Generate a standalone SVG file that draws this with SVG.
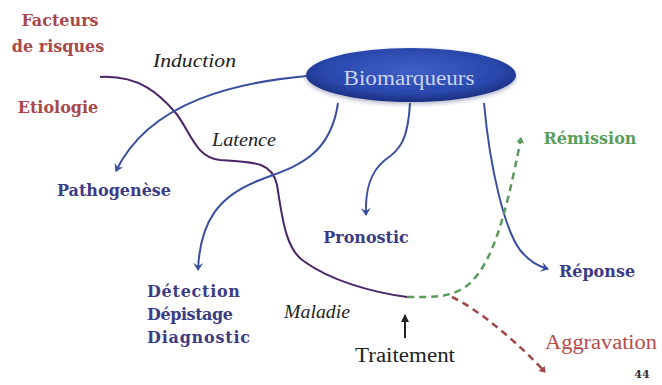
<svg xmlns="http://www.w3.org/2000/svg" width="662" height="385" viewBox="0 0 662 385" font-family="'DejaVu Serif', 'Liberation Serif', serif">
<defs>
<radialGradient id="eg" cx="50%" cy="42%" r="55%">
<stop offset="0" stop-color="#3f5fc8"/>
<stop offset="0.75" stop-color="#2a48ac"/>
<stop offset="1" stop-color="#1e3388"/>
</radialGradient>
<filter id="sh" x="-10%" y="-20%" width="120%" height="150%">
<feGaussianBlur in="SourceAlpha" stdDeviation="2"/>
<feOffset dy="2" result="b"/>
<feFlood flood-color="#1a2a60" flood-opacity="0.35"/>
<feComposite in2="b" operator="in"/>
<feMerge><feMergeNode/><feMergeNode in="SourceGraphic"/></feMerge>
</filter>
<marker id="ab" markerWidth="10" markerHeight="10" refX="7" refY="5" orient="auto" markerUnits="userSpaceOnUse">
<path d="M0,0 L8,5 L0,10 L3,5 Z" fill="#3b4fa0"/>
</marker>
<marker id="ag" markerWidth="8" markerHeight="8" refX="5" refY="4" orient="auto" markerUnits="userSpaceOnUse">
<path d="M0,0 L6,4 L0,8 Z" fill="#5a9a5a"/>
</marker>
<marker id="ar" markerWidth="8" markerHeight="8" refX="5" refY="4" orient="auto" markerUnits="userSpaceOnUse">
<path d="M0,0 L6,4 L0,8 Z" fill="#a04848"/>
</marker>
<marker id="ak" markerWidth="10" markerHeight="10" refX="7" refY="5" orient="auto" markerUnits="userSpaceOnUse">
<path d="M0,1 L8,5 L0,9 Z" fill="#222"/>
</marker>
</defs>
<style>
.red{fill:#a84848;font-weight:bold;font-size:16px}
.blue{fill:#3c3c86;font-weight:bold;font-size:16px}
.reg{font-family:"Liberation Serif","Times New Roman",serif}
.it{font-style:italic;font-size:19px;fill:#222}
.blk{fill:#222;font-size:20px}
.cb{fill:none;stroke:#3b4fa0;stroke-width:2}
</style>
<g id="connectors">
<path d="M100,77 C140,75 160,95 175,112 C190,130 195,158 220,160 C255,162 272,162 277,185 C282,215 285,250 305,262 C330,280 370,292 407,297" fill="none" stroke="#4a2466" stroke-width="2"/>
<path class="cb" d="M307,76 C240,82 150,100 116,171" marker-end="url(#ab)"/>
<path class="cb" d="M338,103 C330,160 290,168 260,180 C220,195 200,220 198,270" marker-end="url(#ab)"/>
<path class="cb" d="M410,103 C408,140 400,150 385,160 C370,172 365,190 366,215" marker-end="url(#ab)"/>
<path class="cb" d="M484,103 C490,170 505,230 520,250 C530,262 538,266 548,269" marker-end="url(#ab)"/>
<path d="M407,297 C430,297 445,298 460,290 C490,275 505,220 521,138" fill="none" stroke="#5a9a5a" stroke-width="2.5" stroke-dasharray="7,5" marker-end="url(#ag)"/>
<path d="M452,297 C480,310 520,345 545,372" fill="none" stroke="#a04848" stroke-width="2.5" stroke-dasharray="7,5" marker-end="url(#ar)"/>
<path d="M405,338 L405,315" fill="none" stroke="#222" stroke-width="2" marker-end="url(#ak)"/>
</g>
<g id="biomarqueurs">
<ellipse cx="411" cy="75" rx="105" ry="27" fill="url(#eg)" filter="url(#sh)"/>
<text class="reg" x="409" y="85" text-anchor="middle" font-size="20" fill="#c8d4f0" textLength="131" lengthAdjust="spacingAndGlyphs">Biomarqueurs</text>
</g>
<g id="facteurs"><text class="red" x="60" y="26" text-anchor="middle">Facteurs</text><text class="red" x="58" y="52" text-anchor="middle">de risques</text></g>
<g id="etiologie"><text class="red" x="58" y="113" text-anchor="middle">Etiologie</text></g>
<g id="induction"><text class="it reg" x="153" y="67" textLength="83" lengthAdjust="spacingAndGlyphs">Induction</text></g>
<g id="latence"><text class="it reg" x="212" y="146" textLength="64" lengthAdjust="spacingAndGlyphs">Latence</text></g>
<g id="pathogenese"><text class="blue" x="114" y="196" text-anchor="middle">Pathogenèse</text></g>
<g id="pronostic"><text class="blue" x="366" y="243" text-anchor="middle" fill="#3a3a6e">Pronostic</text></g>
<g id="reponse"><text class="blue" x="597" y="277" text-anchor="middle">Réponse</text></g>
<g id="detection"><text class="blue" x="147" y="297" textLength="93">Détection</text><text class="blue" x="147" y="320" textLength="86">Dépistage</text><text class="blue" x="147" y="343" textLength="103">Diagnostic</text></g>
<g id="maladie"><text class="it reg" x="284" y="318" textLength="66" lengthAdjust="spacingAndGlyphs">Maladie</text></g>
<g id="remission"><text x="590" y="144" text-anchor="middle" font-size="16" font-weight="bold" fill="#5a9e5a">Rémission</text></g>
<g id="traitement"><text class="blk reg" x="355" y="362" textLength="100" lengthAdjust="spacingAndGlyphs">Traitement</text></g>
<g id="aggravation"><text class="reg" x="545" y="349" font-size="20" fill="#b84a4a" textLength="112" lengthAdjust="spacingAndGlyphs">Aggravation</text></g>
<g id="page"><text x="642" y="378" text-anchor="middle" font-size="11" font-weight="bold" fill="#333">44</text></g>
</svg>
